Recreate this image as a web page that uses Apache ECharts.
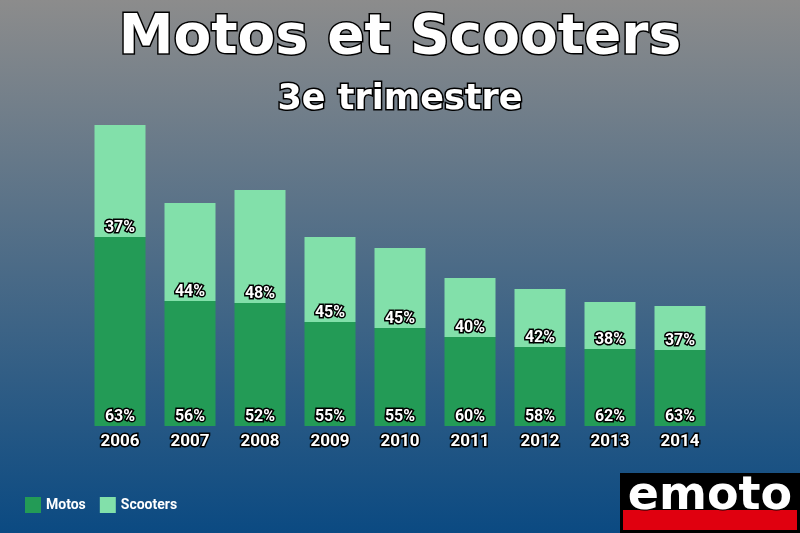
<!DOCTYPE html><html><head><meta charset="utf-8">
<script src="https://cdn.jsdelivr.net/npm/echarts@6/dist/echarts.min.js"></script>
<style>html,body{margin:0;padding:0}#c{width:800px;height:533px;background:linear-gradient(#8c8c8c,#0b4a82)}</style>
</head><body><div id="c"></div><script>
const categories=['2006','2007','2008','2009','2010','2011','2012','2013','2014'];
const motos=[189,125,123,104,98,89,79,77,76];
const scooters=[112,98,113,85,80,59,58,47,44];
const motosPct=['63%','56%','52%','55%','55%','60%','58%','62%','63%'];
const scootersPct=['37%','44%','48%','45%','45%','40%','42%','38%','37%'];
const ch=echarts.init(document.getElementById('c'));
const lbl={show:true,position:'insideBottom',color:'#fff',fontSize:16,fontWeight:'bold',fontFamily:'Roboto',textBorderColor:'#000',textBorderWidth:3,distance:1};
ch.setOption({
title:[{text:'Motos et Scooters',left:'center',top:6,textStyle:{color:'#fff',fontSize:55,fontWeight:'bold',fontFamily:'DejaVu Sans',textBorderColor:'#000',textBorderWidth:3}},
{text:'3e trimestre',left:'center',top:77,textStyle:{color:'#fff',fontSize:35,fontWeight:'bold',fontFamily:'DejaVu Sans',textBorderColor:'#000',textBorderWidth:3}}],
legend:{left:20,bottom:15,itemWidth:16,itemHeight:16,itemGap:14,icon:'rect',textStyle:{color:'#fff',fontSize:14,fontWeight:'bold',fontFamily:'Roboto'},data:['Motos','Scooters']},
grid:{left:85,width:630,top:125,bottom:107},
xAxis:{type:'category',data:categories,axisLine:{show:false},axisTick:{show:false},axisLabel:{color:'#fff',fontSize:17,fontWeight:'bold',fontFamily:'Roboto',textBorderColor:'#000',textBorderWidth:3,margin:7}},
yAxis:{type:'value',min:0,max:301,show:false,splitLine:{show:false}},
series:[
{name:'Motos',type:'bar',stack:'a',barWidth:51,data:motos,itemStyle:{color:'#239B56'},label:Object.assign({},lbl,{formatter:p=>motosPct[p.dataIndex]})},
{name:'Scooters',type:'bar',stack:'a',barWidth:51,data:scooters,itemStyle:{color:'#82E0AA'},label:Object.assign({},lbl,{formatter:p=>scootersPct[p.dataIndex]})}],
graphic:[{type:'group',left:620,top:473,children:[
{type:'rect',shape:{x:0,y:0,width:180,height:60},style:{fill:'#000'}},
{type:'rect',shape:{x:3,y:37,width:174,height:20},style:{fill:'#e0000f'}},
{type:'text',x:90,y:24,style:{text:'emoto',fill:'#fff',stroke:'#000',lineWidth:2,font:'bold 46px "DejaVu Sans"',textAlign:'center',textVerticalAlign:'middle'}}]}]
});
</script></body></html>
